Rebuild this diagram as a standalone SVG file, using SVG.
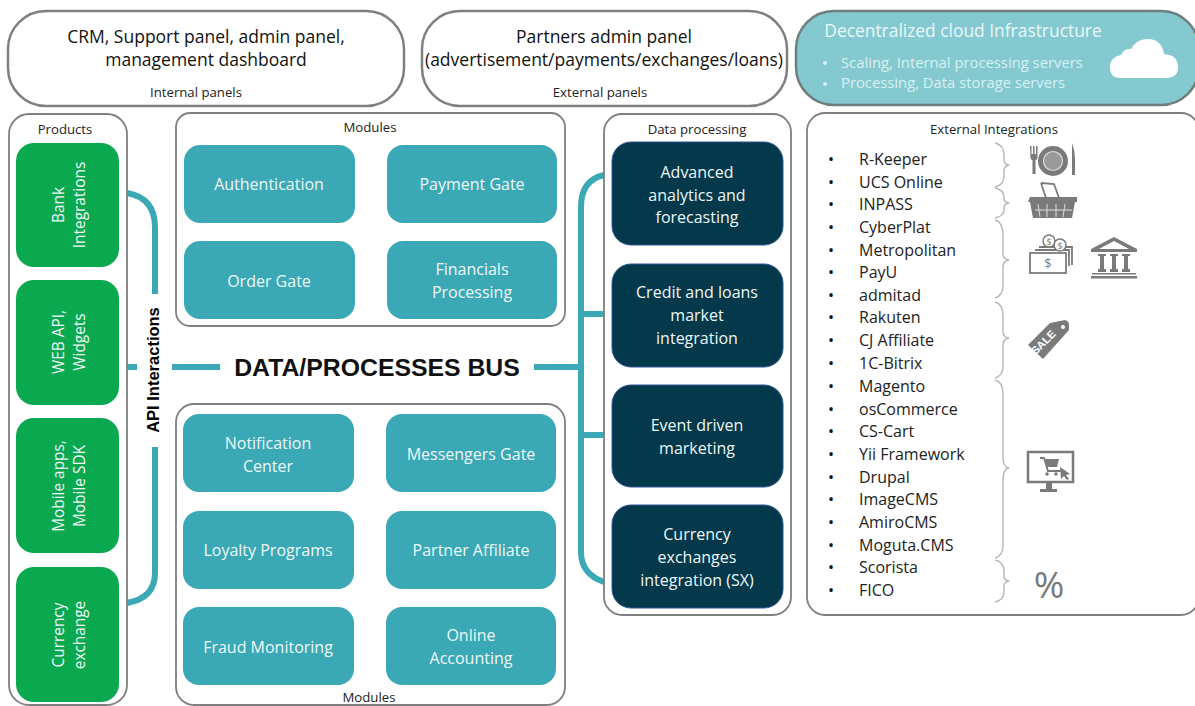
<svg xmlns="http://www.w3.org/2000/svg" width="1195" height="706" viewBox="0 0 1195 706">
<style>
text{font-family:"Open Sans","Liberation Sans",sans-serif;text-anchor:middle}
.panel{fill:#fff;stroke:#7f7f7f;stroke-width:2.5}
.box{fill:#fff;stroke:#7f7f7f;stroke-width:1.8}
.green{fill:#0aa84f}
.teal{fill:#3ba8b5}
.dark{fill:#04384b;stroke:#2f5597;stroke-width:1}
.wt{fill:#eef7f8;font-size:16px}
.gt{fill:#eef7f8;font-size:15.4px}
.lb{fill:#222;font-size:13.2px}
.pt{fill:#111;font-size:17.5px}
.li{fill:#222;font-size:16px;text-anchor:start}
.bu{fill:#111;font-size:16px}
.cl{fill:#d8f0f2;font-size:14.8px;text-anchor:start}
.conn{fill:none;stroke:#3ba8b5;stroke-width:6}
.brace{fill:none;stroke:#b5b5b5;stroke-width:1.4}
.ic{fill:#7a7a7a}
.il{fill:none;stroke:#7a7a7a;stroke-width:1.8}
</style>
<rect width="1195" height="706" fill="#fff"/>
<g id="panel-internal"><rect class="panel" x="8" y="11" width="396" height="95" rx="38"/><text class="pt" x="206" y="43">CRM, Support panel, admin panel,</text><text class="pt" x="206" y="66">management dashboard</text><text class="lb" x="196" y="97">Internal panels</text></g>
<g id="panel-external"><rect class="panel" x="422" y="11" width="365" height="95" rx="38"/><text class="pt" x="604" y="43">Partners admin panel</text><text class="pt" x="604" y="66">(advertisement/payments/exchanges/loans)</text><text class="lb" x="600" y="97">External panels</text></g>
<g id="panel-cloud"><rect x="796" y="11" width="403" height="94" rx="38" fill="#84c9d0" stroke="#6f7f80" stroke-width="2.5"/><text x="963" y="37" fill="#eaf6f7" font-size="17.4">Decentralized cloud Infrastructure</text><text class="cl" x="841" y="68">Scaling, Internal processing servers</text><text class="cl" x="841" y="88">Processing, Data storage servers</text><circle cx="825" cy="63" r="2" fill="#d8f0f2"/><circle cx="825" cy="84" r="2" fill="#d8f0f2"/><path d="M1120 78 q-10 0 -10 -11 q0 -10 11 -12 q3 -7 10 -6 q6 -11 18 -10 q13 1 15 15 q14 1 14 13 q0 11 -12 11 z" fill="#fff"/></g>
<g id="connectors">
<path class="conn" d="M127 193 Q155 198 155 227 V294"/>
<path class="conn" d="M155 447 V573 Q155 598 127 603"/>
<path class="conn" d="M127 367 H137 M172 367 H220"/>
<path class="conn" d="M534 367 H581"/>
<path class="conn" d="M604 175 Q581 180 581 207 V552 Q581 574 604 582"/>
<path class="conn" d="M581 314 H604 M581 435 H604"/>
</g>
<g id="products"><rect class="box" x="9" y="114" width="118" height="591" rx="20"/><text class="lb" x="65" y="134">Products</text></g>
<g id="node-bank"><rect class="green" x="16" y="143" width="103" height="124" rx="18"/><text class="gt" transform="translate(64 205) rotate(-90)">Bank</text><text class="gt" transform="translate(85 205) rotate(-90)">Integrations</text></g>
<g id="node-web"><rect class="green" x="16" y="280" width="103" height="125" rx="18"/><text class="gt" transform="translate(64 342) rotate(-90)">WEB API,</text><text class="gt" transform="translate(85 342) rotate(-90)">Widgets</text></g>
<g id="node-mobile"><rect class="green" x="16" y="418" width="103" height="135" rx="18"/><text class="gt" transform="translate(64 486) rotate(-90)">Mobile apps,</text><text class="gt" transform="translate(85 486) rotate(-90)">Mobile SDK</text></g>
<g id="node-currency"><rect class="green" x="16" y="567" width="103" height="135" rx="18"/><text class="gt" transform="translate(64 635) rotate(-90)">Currency</text><text class="gt" transform="translate(85 635) rotate(-90)">exchange</text></g>
<text id="api-label" transform="translate(159 370) rotate(-90)" font-size="16.5" font-weight="700" fill="#000" style="font-family:'Liberation Sans',sans-serif">API Interactions</text>
<text id="bus-label" x="377" y="376" font-size="24.8" font-weight="700" fill="#111" style="font-family:'Liberation Sans',sans-serif">DATA/PROCESSES BUS</text>
<g id="modules-top"><rect class="box" x="176" y="113" width="389" height="213" rx="14"/><text class="lb" x="370" y="132">Modules</text></g>
<g id="node-auth"><rect class="teal" x="184" y="145" width="171" height="78" rx="16"/><text class="wt" x="269" y="190">Authentication</text></g>
<g id="node-pay"><rect class="teal" x="387" y="145" width="170" height="78" rx="16"/><text class="wt" x="472" y="190">Payment Gate</text></g>
<g id="node-order"><rect class="teal" x="184" y="241" width="171" height="78" rx="16"/><text class="wt" x="269" y="287">Order Gate</text></g>
<g id="node-fin"><rect class="teal" x="387" y="241" width="170" height="78" rx="16"/><text class="wt" x="472" y="275">Financials</text><text class="wt" x="472" y="298">Processing</text></g>
<g id="modules-bottom"><rect class="box" x="176" y="404" width="389" height="301" rx="18"/><text class="lb" x="369" y="702">Modules</text></g>
<g id="node-notif"><rect class="teal" x="183" y="414" width="171" height="78" rx="16"/><text class="wt" x="268" y="449">Notification</text><text class="wt" x="268" y="472">Center</text></g>
<g id="node-msg"><rect class="teal" x="386" y="414" width="170" height="78" rx="16"/><text class="wt" x="471" y="460">Messengers Gate</text></g>
<g id="node-loyal"><rect class="teal" x="183" y="511" width="171" height="78" rx="16"/><text class="wt" x="268" y="556">Loyalty Programs</text></g>
<g id="node-partner"><rect class="teal" x="386" y="511" width="170" height="78" rx="16"/><text class="wt" x="471" y="556">Partner Affiliate</text></g>
<g id="node-fraud"><rect class="teal" x="183" y="607" width="171" height="78" rx="16"/><text class="wt" x="268" y="653">Fraud Monitoring</text></g>
<g id="node-acct"><rect class="teal" x="386" y="607" width="170" height="78" rx="16"/><text class="wt" x="471" y="641">Online</text><text class="wt" x="471" y="664">Accounting</text></g>
<g id="data-processing"><rect class="box" x="604" y="114" width="187" height="501" rx="18"/><text class="lb" x="697" y="134">Data processing</text></g>
<g id="node-analytics"><rect class="dark" x="612" y="142" width="171" height="103" rx="19"/><text class="wt" x="697" y="178">Advanced</text><text class="wt" x="697" y="201">analytics and</text><text class="wt" x="697" y="223">forecasting</text></g>
<g id="node-credit"><rect class="dark" x="612" y="264" width="171" height="103" rx="19"/><text class="wt" x="697" y="298">Credit and loans</text><text class="wt" x="697" y="321">market</text><text class="wt" x="697" y="344">integration</text></g>
<g id="node-event"><rect class="dark" x="612" y="385" width="171" height="102" rx="19"/><text class="wt" x="697" y="431">Event driven</text><text class="wt" x="697" y="454">marketing</text></g>
<g id="node-sx"><rect class="dark" x="612" y="505" width="171" height="103" rx="19"/><text class="wt" x="697" y="540">Currency</text><text class="wt" x="697" y="563">exchanges</text><text class="wt" x="697" y="586">integration (SX)</text></g>
<g id="external"><rect class="box" x="807" y="113" width="392" height="502" rx="18"/><text class="lb" x="994" y="134">External Integrations</text>
<text class="bu" x="831" y="165">•</text><text class="bu" x="831" y="188">•</text><text class="bu" x="831" y="210">•</text><text class="bu" x="831" y="233">•</text><text class="bu" x="831" y="256">•</text><text class="bu" x="831" y="278">•</text><text class="bu" x="831" y="301">•</text><text class="bu" x="831" y="323">•</text><text class="bu" x="831" y="346">•</text><text class="bu" x="831" y="369">•</text><text class="bu" x="831" y="392">•</text><text class="bu" x="831" y="415">•</text><text class="bu" x="831" y="437">•</text><text class="bu" x="831" y="460">•</text><text class="bu" x="831" y="483">•</text><text class="bu" x="831" y="505">•</text><text class="bu" x="831" y="528">•</text><text class="bu" x="831" y="551">•</text><text class="bu" x="831" y="573">•</text><text class="bu" x="831" y="596">•</text>
<text class="li" x="859" y="165">R-Keeper</text><text class="li" x="859" y="188">UCS Online</text><text class="li" x="859" y="210">INPASS</text><text class="li" x="859" y="233">CyberPlat</text><text class="li" x="859" y="256">Metropolitan</text><text class="li" x="859" y="278">PayU</text><text class="li" x="859" y="301">admitad</text><text class="li" x="859" y="323">Rakuten</text><text class="li" x="859" y="346">CJ Affiliate</text><text class="li" x="859" y="369">1C-Bitrix</text><text class="li" x="859" y="392">Magento</text><text class="li" x="859" y="415">osCommerce</text><text class="li" x="859" y="437">CS-Cart</text><text class="li" x="859" y="460">Yii Framework</text><text class="li" x="859" y="483">Drupal</text><text class="li" x="859" y="505">ImageCMS</text><text class="li" x="859" y="528">AmiroCMS</text><text class="li" x="859" y="551">Moguta.CMS</text><text class="li" x="859" y="573">Scorista</text><text class="li" x="859" y="596">FICO</text>
<path class="brace" d="M995 143 Q1004 145 1004 155 V160 Q1004 164 1009 165 Q1004 166 1004 171 V176 Q1004 185 995 187"/>
<path class="brace" d="M995 188 Q1004 190 1004 197 V199 Q1004 202 1009 203 Q1004 204 1004 207 V210 Q1004 216 995 218"/>
<path class="brace" d="M995 220 Q1003 222 1003 235 V254 Q1003 259 1009 260 Q1003 261 1003 267 V285 Q1003 296 995 298"/>
<path class="brace" d="M995 302 Q1003 304 1003 316 V332 Q1003 337 1009 338 Q1003 339 1003 345 V366 Q1003 376 995 378"/>
<path class="brace" d="M995 380 Q1003 382 1003 394 V458 Q1003 467 1009 468 Q1003 469 1003 480 V545 Q1003 556 995 558"/>
<path class="brace" d="M995 560 Q1004 562 1004 571 V577 Q1004 580 1009 581 Q1004 582 1004 586 V592 Q1004 600 995 602"/>
</g>
<g id="icons">
<path class="ic" d="M1030 146 h1.5 v8 h1.5 v-8 h1.5 v8 h1.5 v-8 h1.5 v11 q0 3 -2 3 v14 h-3 v-14 q-2 0 -2 -3 z"/>
<circle cx="1053" cy="161" r="15" fill="#7a7a7a"/><circle cx="1053" cy="161" r="9.5" fill="#9a9a9a" stroke="#ddd" stroke-width="1.2"/>
<path class="ic" d="M1072 143 q3 8 3 16 v16 h-3 z"/>
<path class="il" d="M1041 183 L1054 184 L1059 198 M1041 183 L1046 198" stroke-width="3.2"/>
<path class="ic" d="M1030 197 h47 v5 h-2 l-3 16 h-39 l-3 -16 h-2 z"/>
<path d="M1038 204 l2 13 M1047 204 v13 M1056 204 v13 M1065 204 l-2 13 M1035 210 h37" stroke="#ddd" stroke-width="1" fill="none"/>
<path class="il" d="M1035 250 h34 v16 M1039 247 h33 v18" stroke-width="1.3"/>
<rect x="1030" y="253" width="36" height="20" fill="#fff" stroke="#7a7a7a" stroke-width="1.8"/>
<text x="1048" y="268" font-size="13" fill="#7a7a7a">$</text>
<circle cx="1049" cy="241" r="6" fill="#fff" stroke="#7a7a7a" stroke-width="1.5"/><text x="1049" y="244.5" font-size="9" fill="#7a7a7a">$</text>
<circle cx="1060" cy="245" r="6" fill="#fff" stroke="#7a7a7a" stroke-width="1.5"/><text x="1060" y="248.5" font-size="9" fill="#7a7a7a">$</text>
<path class="ic" d="M1114 237 l23 12 v3 h-46 v-3 z M1114 241 l-15 8 h30 z" fill-rule="evenodd"/>
<path class="ic" d="M1098 254 h8 v2 h-2 v13 h2 v3 h-8 v-3 h2 v-13 h-2 z M1110 254 h8 v2 h-2 v13 h2 v3 h-8 v-3 h2 v-13 h-2 z M1122 254 h8 v2 h-2 v13 h2 v3 h-8 v-3 h2 v-13 h-2 z M1092 273 h44 v1.5 h-44 z M1091 276 h46 v2.5 h-46 z"/>
<path class="ic" d="M1028 345 L1050 323 L1065 320 Q1069 321 1069 325 L1069 330 L1043 359 z"/>
<circle cx="1063" cy="327" r="2" fill="#fff"/>
<text transform="translate(1046 345) rotate(-45)" font-size="11" font-weight="700" fill="#fff" style="font-family:'Liberation Sans',sans-serif">SALE</text>
<rect x="1028" y="452" width="45" height="30" fill="#fff" stroke="#7a7a7a" stroke-width="2.5"/>
<path class="ic" d="M1046 483 h6 v6 h5 v3 h-17 v-3 h6 z"/>
<path class="il" d="M1040 458 h4 l4 13 h14"/><path class="ic" d="M1045 459 h14 l-2 8 h-10 z"/><circle class="ic" cx="1047" cy="474" r="1.8"/><circle class="ic" cx="1056" cy="474" r="1.8"/>
<path class="ic" d="M1060 467 l10 7 l-4 1 l3 4 l-2 1 l-3 -4 l-3 3 z"/>
<text x="1049" y="598" font-size="37" fill="#7a7a7a">%</text>
</g>
</svg>
